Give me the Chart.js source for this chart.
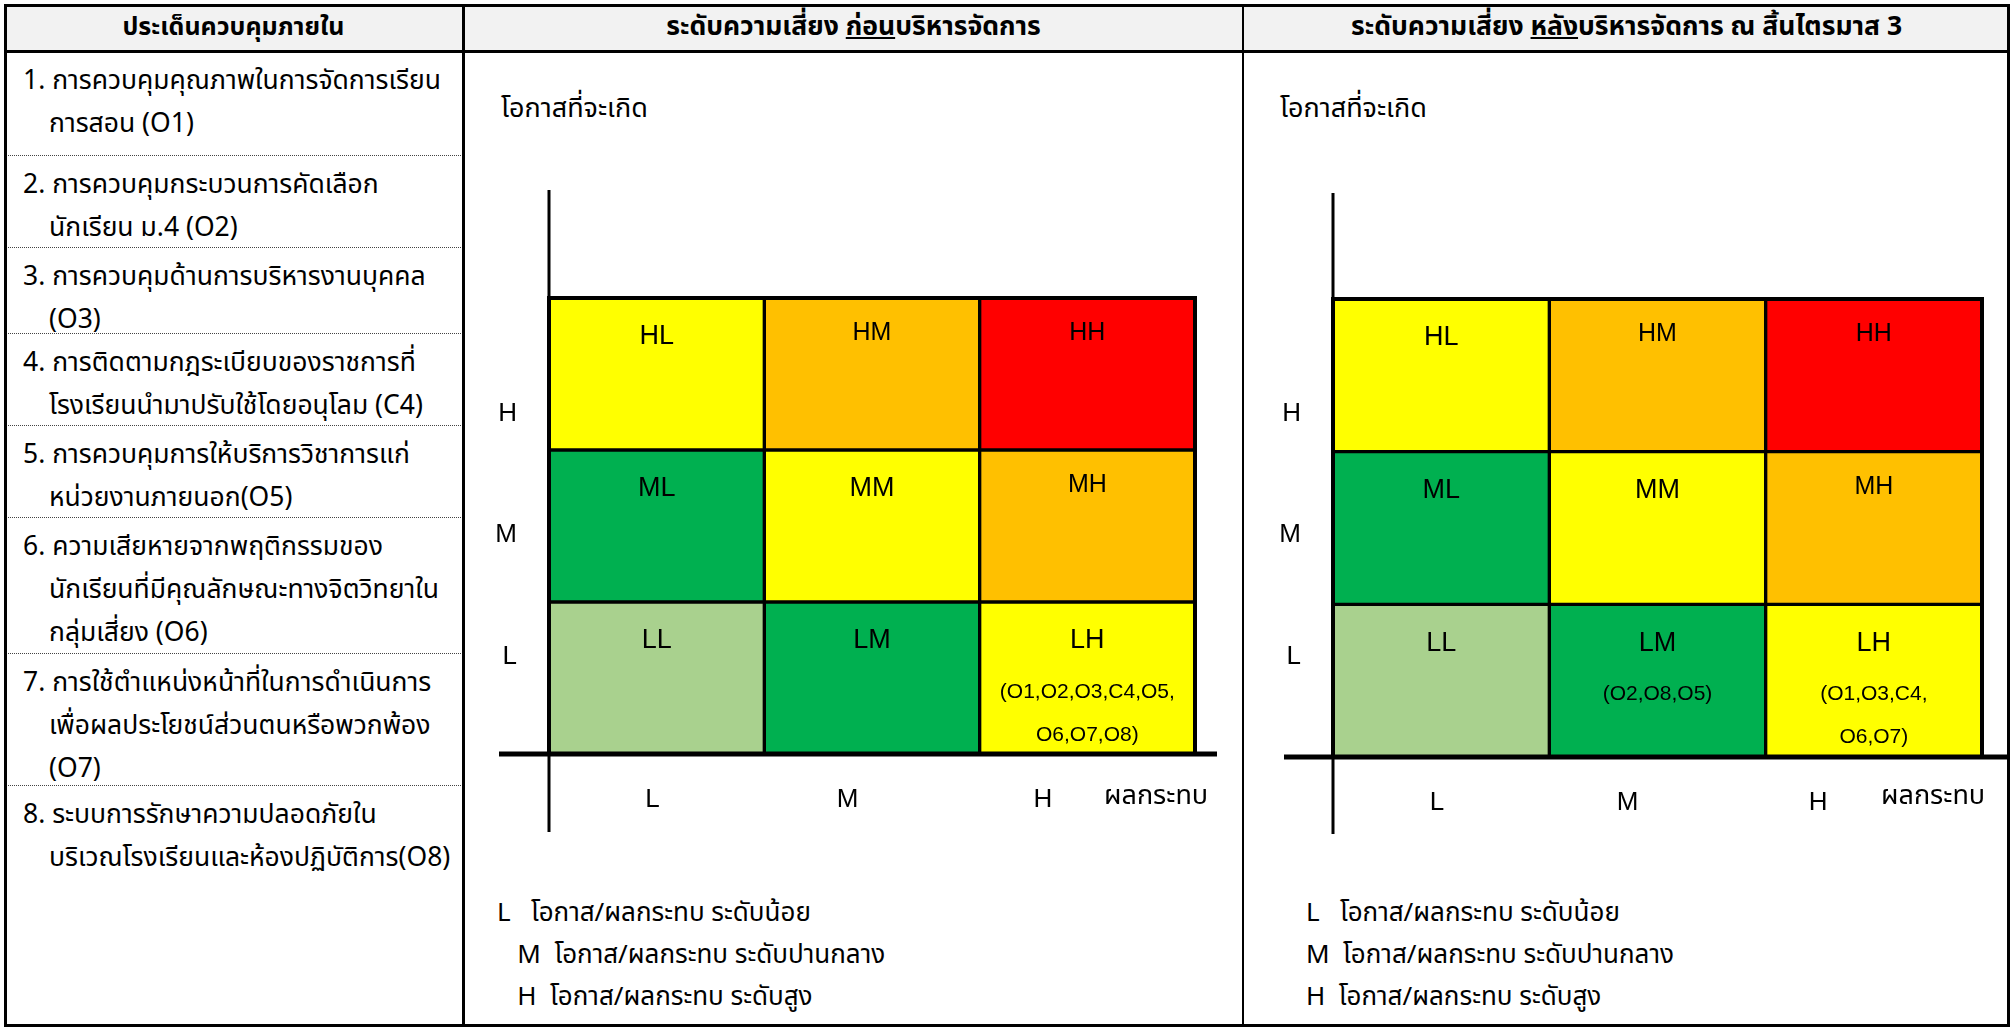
<!DOCTYPE html>
<html>
<head>
<meta charset="utf-8">
<script src="https://cdn.jsdelivr.net/npm/chart.js@4.4.1/dist/chart.umd.min.js"></script>
<style>
  html, body { margin: 0; padding: 0; background: #fff; }
  body { width: 2013px; height: 1029px; position: relative; overflow: hidden;
         font-family: "Noto Sans Thai", "Leelawadee UI", Tahoma, "Noto Sans", "DejaVu Sans", sans-serif; color: #000; }
  .abs { position: absolute; }
  .hdr { position: absolute; top: 4px; height: 47px; background: #f2f2f2; }
  .hdr-text { position: absolute; top: 4px; height: 47px; line-height: 47px; text-align: center;
              font-weight: bold; font-size: 26.5px; }
  .sep { position: absolute; left: 6px; width: 457px; border-top: 1px dotted #444; height: 0; }
  .item { position: absolute; left: 6px; width: 456px; font-size: 26.5px; line-height: 43px;
          padding-left: 43px; text-indent: -26px; box-sizing: border-box; white-space: nowrap; }
  .ytitle { position: absolute; font-size: 27px; }
  .legend { position: absolute; font-size: 26px; line-height: 42px; white-space: pre; }
  canvas { position: absolute; }
</style>
</head>
<body>

<div class="hdr" style="left:4px; width:2006px;"></div>
<div class="hdr-text" style="left:4px; width:459px; font-size:25px;">ประเด็นควบคุมภายใน</div>
<div class="hdr-text" style="left:465px; width:777px;">ระดับความเสี่ยง <u>ก่อน</u>บริหารจัดการ</div>
<div class="hdr-text" style="left:1245px; width:763px;">ระดับความเสี่ยง <u>หลัง</u>บริหารจัดการ ณ สิ้นไตรมาส 3</div>

<div id="items"></div>

<div class="ytitle" style="left:501px; top:88px;">โอกาสที่จะเกิด</div>
<div class="ytitle" style="left:1280px; top:88px;">โอกาสที่จะเกิด</div>

<div class="legend" style="left:497px; top:892px;">L   โอกาส/ผลกระทบ ระดับน้อย
   M  โอกาส/ผลกระทบ ระดับปานกลาง
   H  โอกาส/ผลกระทบ ระดับสูง</div>
<div class="legend" style="left:1306px; top:892px;">L   โอกาส/ผลกระทบ ระดับน้อย
M  โอกาส/ผลกระทบ ระดับปานกลาง
H  โอกาส/ผลกระทบ ระดับสูง</div>

<canvas id="before" width="777" height="973" style="left:465px; top:53px;"></canvas>
<canvas id="after"  width="763" height="973" style="left:1245px; top:53px;"></canvas>

<!-- table rules -->
<div class="abs" style="left:4px; top:4px; width:2006px; height:1023px; border:3px solid #000; box-sizing:border-box;"></div>
<div class="abs" style="left:4px; top:50px; width:2006px; height:3px; background:#000;"></div>
<div class="abs" style="left:462px; top:4px; width:3px; height:1023px; background:#000;"></div>
<div class="abs" style="left:1242px; top:4px; width:2px; height:1023px; background:#000;"></div>

<script>
// ─────────────────────────────────────────────
//  Data
// ─────────────────────────────────────────────

const impactLabels     = ['L', 'M', 'H'];   // x axis, left → right
const likelihoodLabels = ['L', 'M', 'H'];   // y axis, bottom → top
const cellValue        = [1, 1, 1];         // one unit per cell, stacked into a 3x3 grid

// cell colours by likelihood row (L, M, H), each across impact L, M, H
const rowColors = [
  ['#a9d18e', '#00b050', '#ffff00'],
  ['#00b050', '#ffff00', '#ffc000'],
  ['#ffff00', '#ffc000', '#ff0000'],
];

// control items placed in cells
const beforeLH = ['(O1,O2,O3,C4,O5,', 'O6,O7,O8)'];
const afterLM  = ['(O2,O8,O5)'];
const afterLH  = ['(O1,O3,C4,', 'O6,O7)'];

// left column: control issues (wrapped as in the source)
const items = [
  ['1. การควบคุมคุณภาพในการจัดการเรียน', 'การสอน    (O1)'],
  ['2. การควบคุมกระบวนการคัดเลือก', 'นักเรียน ม.4 (O2)'],
  ['3. การควบคุมด้านการบริหารงานบุคคล', '(O3)'],
  ['4. การติดตามกฎระเบียบของราชการที่', 'โรงเรียนนำมาปรับใช้โดยอนุโลม (C4)'],
  ['5. การควบคุมการให้บริการวิชาการแก่', 'หน่วยงานภายนอก(O5)'],
  ['6. ความเสียหายจากพฤติกรรมของ', 'นักเรียนที่มีคุณลักษณะทางจิตวิทยาใน', 'กลุ่มเสี่ยง (O6)'],
  ['7. การใช้ตำแหน่งหน้าที่ในการดำเนินการ', 'เพื่อผลประโยชน์ส่วนตนหรือพวกพ้อง', '(O7)'],
  ['8. ระบบการรักษาความปลอดภัยใน', 'บริเวณโรงเรียนและห้องปฏิบัติการ(O8)'],
];
const itemRowTops = [51, 155, 247, 333, 425, 517, 653, 785];

// ─────────────────────────────────────────────
//  Left column
// ─────────────────────────────────────────────

function renderItems() {
  const host = document.getElementById('items');
  let html = '';
  items.forEach((lines, i) => {
    const top = itemRowTops[i];
    html += `<div class="item" style="top:${top + 9}px">${lines.join('<br>')}</div>`;
    if (i > 0) html += `<div class="sep" style="top:${top}px"></div>`;
  });
  host.innerHTML = html;
}

// ─────────────────────────────────────────────
//  Plugins
// ─────────────────────────────────────────────

const SANS   = '"Liberation Sans", Arial, sans-serif';
const NARROW = '"Liberation Sans Narrow", "Liberation Sans", Arial, sans-serif';
const smallCodes = ['HM', 'HH', 'MH'];

// axis cross lines that run past the grid
const axisCross = {
  id: 'axisCross',
  afterDatasetsDraw(chart, args, opts) {
    const { ctx: c, chartArea: { left, right, top, bottom } } = chart;
    c.save();
    c.strokeStyle = '#000';
    c.lineWidth = 3;
    c.beginPath();
    c.moveTo(left, top - opts.up);
    c.lineTo(left, bottom + opts.down);
    c.stroke();
    c.lineWidth = 5;
    c.beginPath();
    c.moveTo(left - opts.back, bottom);
    c.lineTo(right + opts.ahead, bottom);
    c.stroke();
    // outer frame of the grid
    c.lineWidth = 4;
    c.strokeRect(left, top, right - left, bottom - top);
    c.restore();
  }
};

// code + items written in each cell
const cellText = {
  id: 'cellText',
  afterDatasetsDraw(chart, args, opts) {
    const c = chart.ctx;
    c.save();
    c.fillStyle = '#000';
    c.textAlign = 'center';
    c.textBaseline = 'middle';
    chart.data.datasets.forEach((ds, i) => {
      chart.getDatasetMeta(i).data.forEach((bar, j) => {
        const code = likelihoodLabels[i] + impactLabels[j];
        const small = smallCodes.includes(code);
        c.font = `${small ? 25 : 27}px ${SANS}`;
        c.fillText(code, bar.x, bar.y + (small ? 35 : 39));
        const extra = opts.details(code);
        c.font = `21px ${NARROW}`;
        extra.forEach((line, k) => c.fillText(line, bar.x, bar.y + 90 + k * 43));
      });
    });
    c.restore();
  }
};

// ─────────────────────────────────────────────
//  Risk matrix
// ─────────────────────────────────────────────

function labelAt(labels) {
  return v => (Number.isInteger(v) && v >= 0 && v < labels.length ? labels[v] : '');
}

function renderMatrix(id, geo, details) {
  const ctx = document.getElementById(id).getContext('2d');
  new Chart(ctx, {
    type: 'bar',
    data: {
      labels: impactLabels,
      datasets: likelihoodLabels.map((lk, i) => ({
        label: lk,
        data: cellValue,
        backgroundColor: rowColors[i],
        borderColor: '#000',
        borderWidth: 2,
        borderSkipped: false,
        barPercentage: 1,
        categoryPercentage: 1,
      }))
    },
    options: {
      responsive: false,
      animation: false,
      layout: { padding: { top: geo.top, right: geo.right, left: 0, bottom: 0 } },
      plugins: {
        legend:  { display: false },
        tooltip: { enabled: false },
        axisCross: geo.cross,
        cellText:  { details },
      },
      scales: {
        x: { stacked: true, display: false },
        y: { stacked: true, display: false, min: 0, max: 3 },
        // label axes, placed where the source writes L / M / H
        impact: {
          type: 'linear',
          position: 'bottom',
          offset: false,
          min: geo.xRange[0],
          max: geo.xRange[1],
          grid:   { display: false, drawTicks: false, offset: false },
          border: { display: false },
          ticks:  { stepSize: 1, includeBounds: false, color: '#000', padding: 30,
                    font: { size: 26, family: SANS }, callback: labelAt(impactLabels) },
          afterFit: s => { s.height = geo.xh; },
        },
        likelihood: {
          type: 'linear',
          position: 'left',
          min: geo.yRange[0],
          max: geo.yRange[1],
          grid:   { display: false, drawTicks: false },
          border: { display: false },
          ticks:  { stepSize: 1, includeBounds: false, color: '#000', padding: 32,
                    font: { size: 26, family: SANS }, callback: labelAt(likelihoodLabels) },
          afterFit: s => { s.width = geo.yw; },
        }
      }
    },
    plugins: [axisCross, cellText]
  });
}

// ─────────────────────────────────────────────
//  Impact axis title
// ─────────────────────────────────────────────

function addImpactTitle(left, top) {
  const el = document.createElement('div');
  el.className = 'ytitle';
  el.style.left = left + 'px';
  el.style.top = top + 'px';
  el.textContent = 'ผลกระทบ';
  document.body.appendChild(el);
}

// ─────────────────────────────────────────────
//  Init
// ─────────────────────────────────────────────

renderItems();
addImpactTitle(1104, 775);
addImpactTitle(1881, 775);

renderMatrix('before',
  { top: 245, right: 47, xh: 272, yw: 84, xRange: [-0.53, 2.78], yRange: [-0.8, 2.95],
    cross: { up: 108, down: 78, back: 50, ahead: 22 } },
  code => (code === 'LH' ? beforeLH : []));

renderMatrix('after',
  { top: 246, right: 26, xh: 269, yw: 88, xRange: [-0.545, 2.86], yRange: [-0.83, 2.95],
    cross: { up: 106, down: 77, back: 49, ahead: 26 } },
  code => (code === 'LM' ? afterLM : code === 'LH' ? afterLH : []));
</script>
</body>
</html>
